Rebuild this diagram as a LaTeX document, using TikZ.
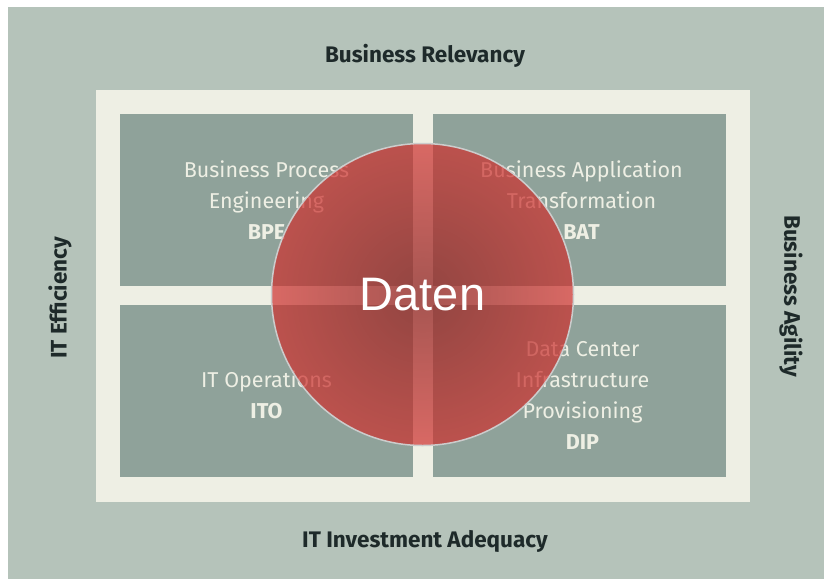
\documentclass[tikz,border=0pt]{standalone}
\usepackage{fontspec}
\setmainfont{Fira Sans}
\newfontfamily\datenfont{Liberation Sans}
\usetikzlibrary{positioning,fadings}

\definecolor{bgcol}{HTML}{B5C3BA}
\definecolor{framecol}{HTML}{EEEFE4}
\definecolor{quadcol}{HTML}{8FA29A}
\definecolor{axiscol}{HTML}{1E2A2A}
\definecolor{datacol}{HTML}{F8302E}
\definecolor{shadecol}{HTML}{3A2A28}

\tikzfading[name=centerfade, inner color=transparent!0, outer color=transparent!100]

\tikzset{
  frame/.style={fill=framecol, inner sep=0pt, minimum width=654pt, minimum height=412pt},
  quad/.style={fill=quadcol, inner sep=0pt, minimum width=293pt, minimum height=172pt},
  quadtext/.style={text=framecol, align=center, inner sep=0pt, font=\fontsize{21.5}{31}\selectfont},
  axis/.style={text=axiscol, font=\fontsize{22.5}{26}\selectfont\bfseries},
  datacircle/.style={circle, minimum size=302pt, inner sep=0pt,
    fill=datacol, fill opacity=0.64, draw=gray!40, line width=1.5pt, draw opacity=1,
    text opacity=1, text=white, font=\datenfont\fontsize{47}{50}\selectfont,
    path picture={\fill[shadecol, fill opacity=0.42, path fading=centerfade]
      (path picture bounding box.center) circle (230pt);}}
}

\begin{document}
\begin{tikzpicture}[x=1pt,y=-1pt]
  \useasboundingbox (0,0) rectangle (824,579);
  % Background
  \fill[bgcol] (8,7) rectangle (824,579);

  % Frame
  \node[frame] (frame) at (423,296) {};

  % Quadrant nodes
  \node[quad] (bpe) at (266.5,200) {};
  \node[quad] (bat) at (579.5,200) {};
  \node[quad] (ito) at (266.5,390.5) {};
  \node[quad] (dip) at (579.5,390.5) {};

  % Quadrant texts
  \node[quadtext] (bpetext) at (bpe.center) {Business Process\\Engineering\\\textbf{BPE}};
  \node[quadtext, xshift=2pt] (battext) at (bat.center) {Business Application\\Transformation\\\textbf{BAT}};
  \node[quadtext, yshift=-4pt] (itotext) at (ito.center) {IT Operations\\\textbf{ITO}};
  \node[quadtext, xshift=3pt, yshift=-5pt] (diptext) at (dip.center) {Data Center\\Infrastructure\\Provisioning\\\textbf{DIP}};

  % Axis labels
  \node[axis] (relevancy) at (425,56) {Business Relevancy};
  \node[axis] (adequacy) at (425,541) {IT Investment Adequacy};
  \node[axis, rotate=90] (efficiency) at (60,298) {IT Efficiency};
  \node[axis, rotate=-90] (agility) at (791,296) {Business Agility};

  % Data circle
  \node[datacircle] (daten) at (422.5,294.5) {Daten};
\end{tikzpicture}
\end{document}
